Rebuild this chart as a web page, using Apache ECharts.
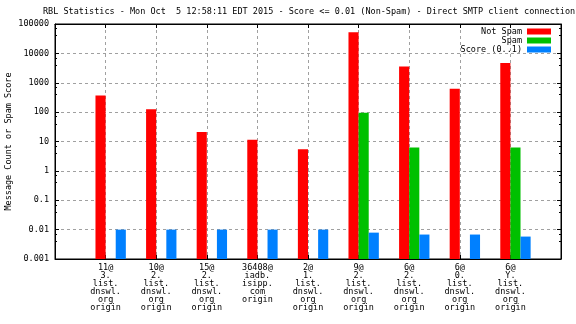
<!DOCTYPE html>
<html>
<head>
<meta charset="utf-8">
<script src="https://cdn.jsdelivr.net/npm/echarts@6/dist/echarts.min.js"></script>
<style>html,body{margin:0;padding:0;background:#fff;}#c{width:576px;height:324px;}</style>
</head>
<body>
<div id="c"></div>
<script>
const categories = [
  "11@\n3.\nlist.\ndnswl.\norg\norigin",
  "10@\n2.\nlist.\ndnswl.\norg\norigin",
  "15@\n2.\nlist.\ndnswl.\norg\norigin",
  "36408@\niadb.\nisipp.\ncom\norigin",
  "2@\n1.\nlist.\ndnswl.\norg\norigin",
  "9@\n2.\nlist.\ndnswl.\norg\norigin",
  "6@\n2.\nlist.\ndnswl.\norg\norigin",
  "6@\n0.\nlist.\ndnswl.\norg\norigin",
  "6@\nY.\nlist.\ndnswl.\norg\norigin"
];
const notSpam = [370, 125, 21, 11.5, 5.4, 52000, 3600, 630, 4700];
const spam = [null, null, null, null, null, 95, 6.2, null, 6.2];
const score = [0.01, 0.01, 0.01, 0.01, 0.01, 0.0079, 0.0068, 0.0068, 0.0058];
const yTickLabels = ["0.001", "0.01", "0.1", "1", "10", "100", "1000", "10000", "100000"];
const seriesNames = ["Not Spam", "Spam", "Score (0..1)"];
const colors = ["#ff0000", "#00c000", "#0080ff"];
const titleText = "RBL Statistics - Mon Oct  5 12:58:11 EDT 2015 - Score <= 0.01 (Non-Spam) - Direct SMTP client connection";
const yName = "Message Count or Spam Score";

const FONT = "DejaVu Sans Mono";
const FS = 8.5;
const yMin = 0.001, yMax = 100000;

function toData(arr) {
  const out = [];
  arr.forEach((v, i) => { if (v !== null && v !== undefined) out.push([i, v]); });
  return out;
}
function makeRender(j) {
  return function (params, api) {
    const i = api.value(0), v = api.value(1);
    const p0 = api.coord([i - 0.2 + 0.2 * j, v]);
    const p1 = api.coord([i + 0.2 * j, yMin]);
    return {
      type: 'rect',
      shape: { x: p0[0], y: p0[1], width: p1[0] - p0[0], height: p1[1] - p0[1] },
      style: { fill: colors[j] }
    };
  };
}
const seriesValues = [notSpam, spam, score];

const chart = echarts.init(document.getElementById('c'), null, { renderer: 'canvas' });
const tickStyle = { show: true, inside: true, length: 4, lineStyle: { color: '#000' } };
const gridLine = { show: true, lineStyle: { color: '#a0a0a0', type: [3, 3], width: 1 } };
const axisLineStyle = { show: true, onZero: false, lineStyle: { color: '#000' } };
const yLabel = (v) => {
  const k = Math.round(Math.log10(v)) + 3;
  return yTickLabels[k] !== undefined ? yTickLabels[k] : '';
};
chart.setOption({
  animation: false,
  backgroundColor: '#fff',
  textStyle: { fontFamily: FONT, fontSize: FS, color: '#000' },
  title: {
    text: titleText,
    left: 43, top: 7, padding: 0,
    textStyle: { fontFamily: FONT, fontSize: FS, fontWeight: 'normal', color: '#000' }
  },
  legend: {
    data: seriesNames,
    orient: 'vertical',
    right: 25, top: 27, padding: 0,
    align: 'right',
    icon: 'rect',
    itemWidth: 24, itemHeight: 6, itemGap: 0,
    textStyle: { fontFamily: FONT, fontSize: FS, color: '#000', lineHeight: 8 }
  },
  grid: {
    left: 55, right: 15, top: 24, bottom: 65,
    containLabel: false, outerBoundsMode: 'none',
    show: true, borderColor: '#000', borderWidth: 1, backgroundColor: 'transparent'
  },
  xAxis: [{
    type: 'value', min: -1, max: 9, interval: 1,
    axisLine: axisLineStyle,
    axisTick: tickStyle,
    splitLine: gridLine,
    axisLabel: {
      fontFamily: FONT, fontSize: FS, color: '#000', lineHeight: 8, margin: 5,
      showMinLabel: true, showMaxLabel: true, hideOverlap: false,
      formatter: (v) => (v >= 0 && v < categories.length && Number.isInteger(v)) ? categories[v] : ''
    }
  }, {
    type: 'value', min: -1, max: 9, interval: 1, position: 'top',
    axisLine: axisLineStyle,
    axisTick: tickStyle, axisLabel: { show: false }, splitLine: { show: false }
  }],
  yAxis: [{
    type: 'log', logBase: 10, min: yMin, max: yMax, splitNumber: 8, position: 'left',
    name: yName, nameLocation: 'middle', nameRotate: 90, nameGap: 42, nameMoveOverlap: false,
    nameTextStyle: { fontFamily: FONT, fontSize: FS, color: '#000' },
    axisLine: axisLineStyle,
    axisTick: tickStyle,
    minorTick: { show: true, splitNumber: 3, length: 2, lineStyle: { color: '#000' } },
    splitLine: gridLine,
    axisLabel: { fontFamily: FONT, fontSize: FS, color: '#000', margin: 6, formatter: yLabel }
  }, {
    type: 'log', logBase: 10, min: yMin, max: yMax, splitNumber: 8, position: 'right',
    axisLine: axisLineStyle,
    axisTick: tickStyle,
    minorTick: { show: true, splitNumber: 3, length: 2, lineStyle: { color: '#000' } },
    axisLabel: { show: false }, splitLine: { show: false }
  }],
  series: seriesNames.map((name, j) => ({
    name: name,
    type: 'custom',
    coordinateSystem: 'cartesian2d',
    xAxisIndex: 0, yAxisIndex: 0,
    itemStyle: { color: colors[j] },
    encode: { x: 0, y: 1 },
    clip: true,
    renderItem: makeRender(j),
    data: toData(seriesValues[j])
  }))
});
</script>
</body>
</html>
